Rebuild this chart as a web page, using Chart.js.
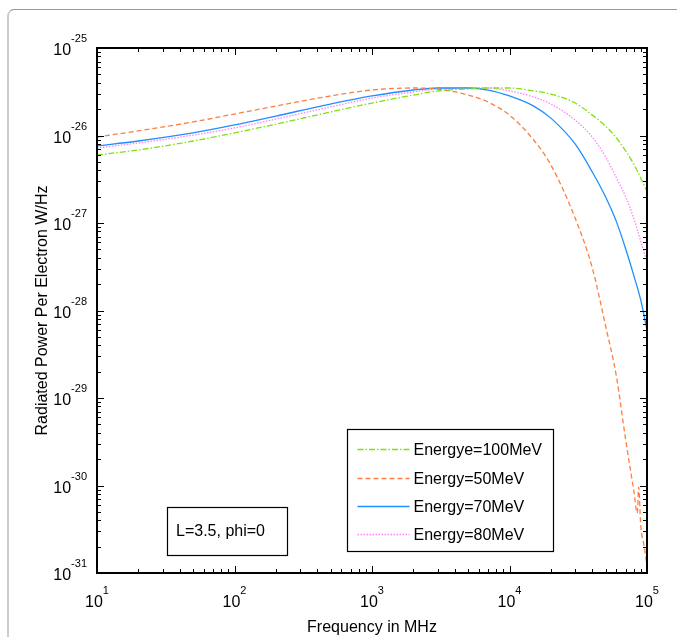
<!DOCTYPE html>
<html>
<head>
<meta charset="utf-8">
<title>Radiated Power Per Electron</title>
<script src="https://cdn.jsdelivr.net/npm/chart.js@4.4.1/dist/chart.umd.min.js"></script>
<style>
    html, body {
        margin: 0;
        padding: 0;
        background: #ffffff;
    }
    #wrap {
        position: relative;
        width: 677px;
        height: 637px;
        overflow: hidden;
    }
    #frame {
        position: absolute;
        left: 7px;
        top: 9px;
        width: 720px;
        height: 700px;
        border-top: 1px solid #9a9a9a;
        border-left: 2px solid #cccccc;
        border-top-left-radius: 7px;
    }
    #powerChart {
        position: absolute;
        left: 0;
        top: 0;
    }
</style>
</head>
<body>
<div id="wrap">
    <div id="frame"></div>
    <canvas id="powerChart" width="677" height="637"></canvas>
</div>
<script>
// Frequency samples (MHz)
const frequencies = [10, 20, 50, 100, 200, 500, 1000, 2000, 3000, 5000, 7000,
    10000, 15000, 20000, 30000, 40000, 50000, 60000, 70000, 80000, 90000, 100000];

// Orange curve has a little jitter near the end, so it gets its own x list
const frequencies50 = [10, 20, 50, 100, 200, 500, 1000, 2000, 3000, 5000, 7000,
    10000, 15000, 20000, 30000, 40000, 50000, 60000, 70000, 80000, 85000, 87000, 90000, 95000, 100000];

// Radiated power per electron (W/Hz)
const power100 = [5.99e-27, 6.83e-27, 8.65e-27, 1.07e-26, 1.35e-26, 1.86e-26, 2.35e-26, 2.90e-26,
    3.23e-26, 3.40e-26, 3.49e-26, 3.49e-26, 3.23e-26, 2.98e-26, 2.35e-26, 1.71e-26,
    1.28e-26, 9.36e-27, 6.65e-27, 4.72e-27, 3.27e-27, 2.30e-27];

const power50 = [9.61e-27, 1.13e-26, 1.43e-26, 1.76e-26, 2.17e-26, 2.83e-26, 3.31e-26, 3.49e-26,
    3.40e-26, 2.90e-26, 2.41e-26, 1.71e-26, 8.88e-27, 4.60e-27, 1.14e-27, 3.06e-28,
    6.65e-29, 1.74e-29, 3.31e-30, 8.88e-31, 4.85e-31, 9.6e-31, 3.54e-31, 2.09e-31, 1.23e-31];

const power70 = [7.59e-27, 8.65e-27, 1.07e-26, 1.32e-26, 1.67e-26, 2.29e-26, 2.83e-26, 3.31e-26,
    3.49e-26, 3.49e-26, 3.31e-26, 2.83e-26, 2.17e-26, 1.58e-26, 8.0e-27, 3.83e-27,
    1.98e-27, 1.03e-27, 5.05e-28, 2.54e-28, 1.32e-28, 5.98e-29];

const power80 = [7.20e-27, 8.21e-27, 1.01e-26, 1.22e-26, 1.54e-26, 2.12e-26, 2.68e-26, 3.14e-26,
    3.40e-26, 3.49e-26, 3.49e-26, 3.23e-26, 2.75e-26, 2.29e-26, 1.50e-26, 9.61e-27,
    5.68e-27, 3.27e-27, 1.98e-27, 1.14e-27, 6.22e-28, 3.58e-28];

// Axis decades
const xDecades = [1, 2, 3, 4, 5];
const yDecades = [-31, -30, -29, -28, -27, -26, -25];

const seriesLabels = ['Energye=100MeV', 'Energy=50MeV', 'Energy=70MeV', 'Energy=80MeV'];
const noteText = 'L=3.5, phi=0';
const xTitle = 'Frequency in MHz';
const yTitle = 'Radiated Power Per Electron W/Hz';

const FONT = '"Liberation Sans", Arial, Helvetica, sans-serif';

function toPoints(xs, ys) {
    return xs.map((x, i) => ({ x: x, y: ys[i] }));
}

// Draws the MATLAB-like frame, inward ticks, superscript labels, legend and note
const decorPlugin = {
    id: 'decor',
    afterDatasetsDraw(chart) {
        const ctx = chart.ctx;
        const area = chart.chartArea;
        const xs = chart.scales.x;
        const ys = chart.scales.y;

        ctx.save();
        ctx.strokeStyle = '#000';
        ctx.fillStyle = '#000';

        // Minor / major ticks on all four sides
        ctx.lineWidth = 1;
        ctx.beginPath();
        xDecades.forEach(d => {
            for (let m = 1; m <= 9; m++) {
                const v = m * Math.pow(10, d);
                if (v > 1e5) break;
                const px = Math.round(xs.getPixelForValue(v)) + 0.5;
                const len = m === 1 ? 7 : 4;
                ctx.moveTo(px, area.bottom);
                ctx.lineTo(px, area.bottom - len);
                ctx.moveTo(px, area.top);
                ctx.lineTo(px, area.top + len);
            }
        });
        yDecades.forEach(d => {
            for (let m = 1; m <= 9; m++) {
                const v = m * Math.pow(10, d);
                if (v > 1.0001e-25) break;
                const py = Math.round(ys.getPixelForValue(v)) + 0.5;
                const len = m === 1 ? 7 : 4;
                ctx.moveTo(area.left, py);
                ctx.lineTo(area.left + len, py);
                ctx.moveTo(area.right, py);
                ctx.lineTo(area.right - len, py);
            }
        });
        ctx.stroke();

        // Plot box
        ctx.lineWidth = 2;
        ctx.strokeRect(area.left, area.top, area.right - area.left, area.bottom - area.top);

        // X tick labels: 10 with superscript exponent
        ctx.textBaseline = 'alphabetic';
        ctx.textAlign = 'left';
        xDecades.forEach(d => {
            const px = xs.getPixelForValue(Math.pow(10, d));
            ctx.font = '16px ' + FONT;
            const wBase = ctx.measureText('10').width;
            ctx.font = '11px ' + FONT;
            const wExp = ctx.measureText(String(d)).width;
            const start = px - (wBase + wExp) / 2;
            ctx.font = '16px ' + FONT;
            ctx.fillText('10', start, area.bottom + 34);
            ctx.font = '11px ' + FONT;
            ctx.fillText(String(d), start + wBase, area.bottom + 21);
        });

        // Y tick labels, right aligned left of the axis
        yDecades.forEach(d => {
            const py = ys.getPixelForValue(Math.pow(10, d));
            ctx.font = '11px ' + FONT;
            const wExp = ctx.measureText(String(d)).width;
            const right = area.left - 10;
            ctx.fillText(String(d), right - wExp, py - 6);
            ctx.font = '16px ' + FONT;
            const wBase = ctx.measureText('10').width;
            ctx.fillText('10', right - wExp - wBase, py + 7);
        });

        // Axis titles
        ctx.font = '16px ' + FONT;
        ctx.textAlign = 'center';
        ctx.fillText(xTitle, (area.left + area.right) / 2, area.bottom + 59);
        ctx.save();
        ctx.translate(47, (area.top + area.bottom) / 2);
        ctx.rotate(-Math.PI / 2);
        ctx.fillText(yTitle, 0, 0);
        ctx.restore();

        // Legend box (sits in the lower right of the plot)
        const lg = { left: 347.5, top: 429.5, w: 206, h: 122 };
        ctx.fillStyle = '#fff';
        ctx.fillRect(lg.left, lg.top, lg.w, lg.h);
        ctx.lineWidth = 1.2;
        ctx.strokeStyle = '#000';
        ctx.strokeRect(lg.left, lg.top, lg.w, lg.h);
        const rowY = [19, 48, 76, 104];
        chart.data.datasets.forEach((ds, i) => {
            const y = Math.round(lg.top + rowY[i]) + 0.5;
            ctx.save();
            ctx.strokeStyle = ds.borderColor;
            ctx.lineWidth = ds.borderWidth;
            ctx.setLineDash(ds.borderDash || []);
            ctx.beginPath();
            ctx.moveTo(lg.left + 10, y);
            ctx.lineTo(lg.left + 62, y);
            ctx.stroke();
            ctx.restore();
            ctx.fillStyle = '#000';
            ctx.font = '16px ' + FONT;
            ctx.textAlign = 'left';
            ctx.textBaseline = 'middle';
            ctx.fillText(ds.label, lg.left + 66, y + 1);
        });

        // Parameter note box
        const nb = { left: 167, top: 507, w: 120, h: 48 };
        ctx.fillStyle = '#fff';
        ctx.fillRect(nb.left, nb.top, nb.w, nb.h);
        ctx.strokeRect(nb.left + 0.5, nb.top + 0.5, nb.w, nb.h);
        ctx.fillStyle = '#000';
        ctx.textAlign = 'left';
        ctx.textBaseline = 'middle';
        ctx.fillText(noteText, nb.left + 9, nb.top + 25);

        ctx.restore();
    }
};

function buildDataset(label, xs, ys, color, dash) {
    return {
        label: label,
        data: toPoints(xs, ys),
        borderColor: color,
        backgroundColor: color,
        borderWidth: 1.3,
        borderDash: dash,
        pointRadius: 0,
        fill: false,
        cubicInterpolationMode: 'monotone'
    };
}

function initializeChart() {
    const ctx = document.getElementById('powerChart').getContext('2d');
    new Chart(ctx, {
        type: 'line',
        data: {
            datasets: [
                buildDataset(seriesLabels[0], frequencies, power100, '#80e010', [6, 2, 1.5, 2]),
                buildDataset(seriesLabels[1], frequencies50, power50, '#ff7f40', [5, 3]),
                buildDataset(seriesLabels[2], frequencies, power70, '#1e8fff', []),
                buildDataset(seriesLabels[3], frequencies, power80, '#ff80ff', [1.5, 1.5])
            ]
        },
        options: {
            responsive: false,
            devicePixelRatio: 1,
            animation: false,
            layout: {
                padding: { left: 97, top: 48, right: 30, bottom: 64 }
            },
            plugins: {
                legend: { display: false },
                tooltip: { enabled: false }
            },
            scales: {
                x: {
                    type: 'logarithmic',
                    min: 10,
                    max: 100000,
                    display: false
                },
                y: {
                    type: 'logarithmic',
                    min: 1e-31,
                    max: 1e-25,
                    display: false
                }
            }
        },
        plugins: [decorPlugin]
    });
}

document.addEventListener('DOMContentLoaded', function() {
    initializeChart();
});
</script>
</body>
</html>
